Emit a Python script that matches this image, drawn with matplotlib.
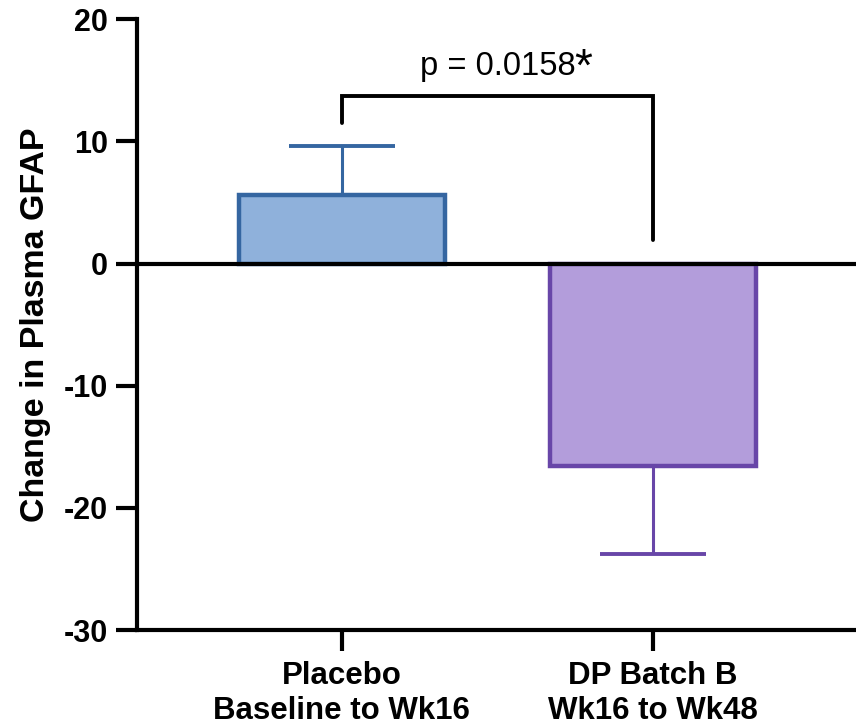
import matplotlib
matplotlib.use("Agg")
import matplotlib.pyplot as plt

categories = ["Placebo\nBaseline to Wk16", "DP Batch B\nWk16 to Wk48"]
means = [5.6, -16.6]
errors = [4.0, 7.2]
fills = ["#8FB1DB", "#B39DDB"]
edges = ["#3566A1", "#6846A8"]
p_text = "p = 0.0158"
yticks = [-30, -20, -10, 0, 10, 20]

plt.rcParams['font.family'] = ['Liberation Sans', 'DejaVu Sans']

fig = plt.figure(figsize=(8.56, 7.28), dpi=100)
ax = fig.add_axes([0.16, 0.1346, 0.84, 0.839])

x = [0, 1]
for i in range(2):
    ax.bar(x[i], means[i], width=0.66, color=fills[i], edgecolor=edges[i],
           linewidth=3.2, zorder=2)
    sign = 1 if means[i] >= 0 else -1
    ax.errorbar(x[i], means[i], yerr=[[0], [errors[i]]] if sign > 0 else [[errors[i]], [0]],
                fmt='none', ecolor=edges[i], elinewidth=2.2, capsize=38, capthick=2.8, zorder=1)

ax.axhline(0, color='black', linewidth=3, zorder=3)

# significance bracket
ax.plot([0, 0, 1, 1], [11.5, 13.7, 13.7, 1.9], color='black', linewidth=2.8,
        solid_capstyle='round', solid_joinstyle='miter', zorder=3)
ax.text(0.5, 15.4, p_text, ha='center', va='baseline', fontsize=23.5)
ax.text(0.748, 15.0, "*", ha='left', va='baseline', fontsize=33)

ax.set_xlim(-0.659, 1.653)
ax.set_ylim(-30, 20)
ax.set_yticks(yticks)
ax.set_yticklabels([str(t) for t in yticks], fontsize=22, fontweight='bold')
ax.set_xticks(x)
ax.set_xticklabels(categories, fontsize=22.5, fontweight='bold', linespacing=1.22)
ax.set_ylabel("Change in Plasma GFAP", fontsize=24.5, fontweight='bold', labelpad=9)

for s in ['top', 'right']:
    ax.spines[s].set_visible(False)
for s in ['left', 'bottom']:
    ax.spines[s].set_linewidth(3)
ax.tick_params(axis='both', width=3, length=15, direction='out')
ax.tick_params(axis='y', pad=6)
ax.tick_params(axis='x', pad=7)

fig.savefig("out.png", dpi=100)
